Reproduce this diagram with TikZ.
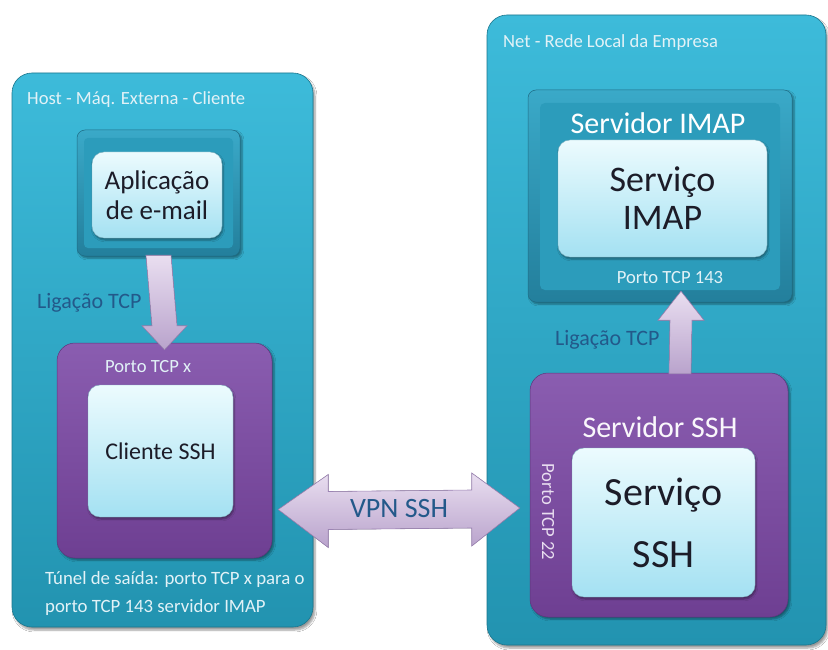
\documentclass[tikz,border=0pt]{standalone}
\usepackage{fontspec}
\setmainfont{Carlito}
\usetikzlibrary{calc,shadows.blur}
\definecolor{cyanA}{HTML}{3DBBDA}
\definecolor{cyanB}{HTML}{2293B0}
\definecolor{bevelA}{HTML}{3AA9C8}
\definecolor{bevelB}{HTML}{237F9C}
\definecolor{faceA}{HTML}{2C9CBB}
\definecolor{purpA}{HTML}{8A5DB0}
\definecolor{purpB}{HTML}{6E3F92}
\definecolor{lightA}{HTML}{ECFBFE}
\definecolor{lightB}{HTML}{A4E1F2}
\definecolor{arrA}{HTML}{E9DEF0}
\definecolor{arrB}{HTML}{B9A3CC}
\definecolor{arrD}{HTML}{9C84B4}
\definecolor{lbl}{HTML}{E2F2F7}
\definecolor{dkblue}{HTML}{23598A}
\definecolor{inktext}{HTML}{1C1C28}
\tikzset{
  outerbox/.style={rectangle, rounded corners=20pt, top color=cyanA, bottom color=cyanB, draw=cyanB!80!black, line width=0.6pt,
    blur shadow={shadow xshift=2pt, shadow yshift=-3pt, shadow blur steps=6}},
  bevelbox/.style={rectangle, rounded corners=8pt, top color=bevelA, bottom color=bevelB, draw=bevelB!85!black, line width=0.5pt,
    blur shadow={shadow xshift=2pt, shadow yshift=-2pt, shadow blur steps=5}},
  purpbox/.style={rectangle, rounded corners=18pt, top color=purpA, bottom color=purpB, draw=purpB!85!black, line width=0.5pt,
    blur shadow={shadow xshift=2pt, shadow yshift=-2pt, shadow blur steps=5}},
  lightbox/.style={rectangle, rounded corners=12pt, top color=lightA, bottom color=lightB, draw=lightB!80!black, line width=0.4pt,
    text=inktext, align=center,
    blur shadow={shadow xshift=1pt, shadow yshift=-2pt, shadow blur steps=4}},
  arrowshape/.style={top color=arrA, bottom color=arrB, draw=arrD, line width=0.6pt, line join=miter},
  whitelabel/.style={text=lbl, font=\fontsize{18.6}{20}\selectfont, inner sep=0pt},
  bluelabel/.style={text=dkblue, font=\fontsize{22}{24}\selectfont, inner sep=0pt},
}
\begin{document}
\begin{tikzpicture}[x=1pt,y=-1pt]
\useasboundingbox (0,0) rectangle (828,650);
\fill[white] (0,0) rectangle (828,650);

% outer containers
\node[outerbox, minimum width=301pt, minimum height=554pt] (host) at (162.5,350) {};
\node[outerbox, minimum width=339pt, minimum height=630pt] (net) at (656.5,330) {};
\node[whitelabel, anchor=west] (hostlbl) at (27,100) {Host - Máq. Externa - Cliente};
\node[whitelabel, anchor=west] (netlbl) at (503,43) {Net - Rede Local da Empresa};

% left side
\node[bevelbox, minimum width=163pt, minimum height=126pt] (app) at (158.5,193) {};
\fill[faceA, rounded corners=4pt] (84,138) rectangle (233,248);
\node[lightbox, minimum width=130pt, minimum height=86pt, font=\fontsize{27}{30}\selectfont] (appin) at (157,195) {Aplicação\\de e-mail};

\node[purpbox, minimum width=215pt, minimum height=215pt] (cli) at (164.5,450.5) {};
\node[lightbox, minimum width=145pt, minimum height=132pt, font=\fontsize{24}{26}\selectfont] (cliin) at (160.5,451) {Cliente SSH};
\node[whitelabel, anchor=west] (portx) at (105,367) {Porto TCP x};

% down arrow
\fill[arrowshape] ($(app.south)+(-12.5,-1)$) -- ($(app.south)+(12.5,-1)$) -- ($(cli.north)+(12.5,-17)$)
  -- ($(cli.north)+(22.5,-17)$) -- ($(cli.north)+(0,7)$) -- ($(cli.north)+(-22.5,-17)$) -- ($(cli.north)+(-12.5,-17)$) -- cycle;
\node[bluelabel, anchor=west] (lig1) at (37,303) {Ligação TCP};

\node[whitelabel, anchor=west, align=left, font=\fontsize{18.8}{28}\selectfont] (tunel) at (45,593)
  {Túnel de saída: porto TCP x para o\\porto TCP 143 servidor IMAP};

% right side
\node[bevelbox, minimum width=264pt, minimum height=212pt] (imap) at (660,196) {};
\fill[faceA, rounded corners=5pt] (540,103) rectangle (780,290);
\node[text=white, font=\fontsize{30}{32}\selectfont, inner sep=0pt] (imaplbl) at (658,123) {Servidor IMAP};
\node[lightbox, minimum width=209pt, minimum height=117pt, font=\fontsize{36}{38}\selectfont] (imapin) at (662.5,198.5) {Serviço\\IMAP};
\node[whitelabel] (port143) at (670,278) {Porto TCP 143};

\node[purpbox, minimum width=258pt, minimum height=244pt] (ssh) at (659,495) {};
\node[text=white!95!purpA, font=\fontsize{30}{32}\selectfont, inner sep=0pt] (sshlbl) at (660,427) {Servidor SSH};
\node[lightbox, minimum width=183pt, minimum height=149pt, font=\fontsize{40}{62}\selectfont] (sshin) at (663.5,522.5) {Serviço\\SSH};
\node[text=arrA, font=\fontsize{18.6}{20}\selectfont, inner sep=0pt, rotate=-90] (port22) at (548,512) {Porto TCP 22};

% up arrow
\fill[arrowshape] ($(ssh.north)+(10,1)$) -- ($(ssh.north)+(32,1)$) -- ($(imap.south)+(32,18)$)
  -- ($(imap.south)+(44,18)$) -- ($(imap.south)+(21,-11)$) -- ($(imap.south)+(-2,18)$) -- ($(imap.south)+(10,18)$) -- cycle;
\node[bluelabel, anchor=west] (lig2) at (555,340) {Ligação TCP};

% VPN double arrow
\coordinate (vl) at ($(cli.east)+(6,59)$);
\coordinate (vr) at ($(ssh.west)+(-10,13)$);
\fill[arrowshape] (vl) -- ++(50,-35) -- ++(0,17) -- ($(vr)+(-48,-18)$) -- ++(0,-17) -- (vr) -- ++(-48,38) -- ++(0,-18) -- ($(vl)+(50,20)$) -- ++(0,18) -- cycle;
\node[text=dkblue, font=\fontsize{28}{30}\selectfont, inner sep=0pt] (vpn) at ($(vl)!0.5!(vr)$) {VPN SSH};
\end{tikzpicture}
\end{document}
